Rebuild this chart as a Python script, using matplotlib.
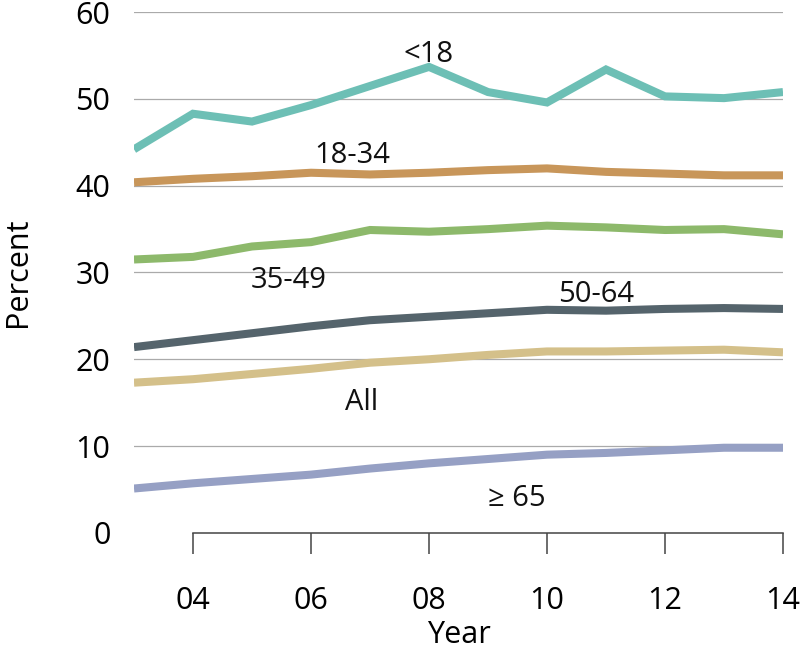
import numpy as np
import matplotlib
matplotlib.use("Agg")
import matplotlib.pyplot as plt

# data
years = np.arange(2003, 2015)
under18 = [44.2, 48.3, 47.4, 49.3, 51.5, 53.7, 50.8, 49.6, 53.4, 50.3, 50.1, 50.8]
age18_34 = [40.4, 40.8, 41.1, 41.5, 41.3, 41.5, 41.8, 42.0, 41.6, 41.4, 41.2, 41.2]
age35_49 = [31.5, 31.8, 33.0, 33.5, 34.9, 34.7, 35.0, 35.4, 35.2, 34.9, 35.0, 34.4]
age50_64 = [21.4, 22.2, 23.0, 23.8, 24.5, 24.9, 25.3, 25.7, 25.6, 25.8, 25.9, 25.8]
all_ages = [17.3, 17.7, 18.3, 18.9, 19.6, 20.0, 20.5, 20.9, 20.9, 21.0, 21.1, 20.8]
age65 = [5.1, 5.7, 6.2, 6.7, 7.4, 8.0, 8.5, 9.0, 9.2, 9.5, 9.8, 9.8]

labels = ["<18", "18-34", "35-49", "50-64", "All", "\u2265 65"]
colors = ["#6DBFB5", "#C8965A", "#8DB96B", "#55646C", "#D4C08A", "#96A0C4"]
series = [under18, age18_34, age35_49, age50_64, all_ages, age65]
# where the in-chart labels sit (x, baseline y)
label_pos = [(2008.0, 54.3), (2006.7, 42.6), (2005.63, 28.2),
             (2010.83, 26.6), (2006.85, 14.2), (2009.48, 3.05)]

yticks = [0, 10, 20, 30, 40, 50, 60]
xticks = [2004, 2006, 2008, 2010, 2012, 2014]
xticklabels = ["04", "06", "08", "10", "12", "14"]

plt.rcParams['font.family'] = ['Open Sans', 'DejaVu Sans']

fig = plt.figure(figsize=(8, 6.55), dpi=100)
ax = fig.add_axes([0.1675, 0.18664, 0.81125, 0.79466])

for yt in yticks[1:]:
    ax.axhline(yt, color="#AAAAAA", lw=0.9, zorder=1)

for vals, c in zip(series, colors):
    ax.plot(years, vals, color=c, lw=5.8, solid_capstyle="butt",
            solid_joinstyle="miter", zorder=3)

for lab, (lx, ly) in zip(labels, label_pos):
    ax.text(lx, ly, lab, ha="center", va="baseline", fontsize=21,
            color="#111111", zorder=4)

ax.set_xlim(2003, 2014)
ax.set_ylim(0, 60)
ax.set_yticks(yticks)
ax.set_xticks(xticks)
ax.set_xticklabels(xticklabels)

for s in ["left", "right", "top"]:
    ax.spines[s].set_visible(False)
ax.spines["bottom"].set_bounds(2004, 2014)
ax.spines["bottom"].set_color("#444444")
ax.spines["bottom"].set_linewidth(1.1)

ax.tick_params(axis="y", length=0, pad=17, labelsize=22)
ax.tick_params(axis="x", direction="out", length=15, width=1.1,
               color="#444444", pad=23, labelsize=22)

ax.set_xlabel("Year", fontsize=22, labelpad=3)
ax.set_ylabel("Percent", fontsize=22)
ax.yaxis.set_label_coords(-0.156, 0.5)

fig.savefig("out.png", dpi=100)
